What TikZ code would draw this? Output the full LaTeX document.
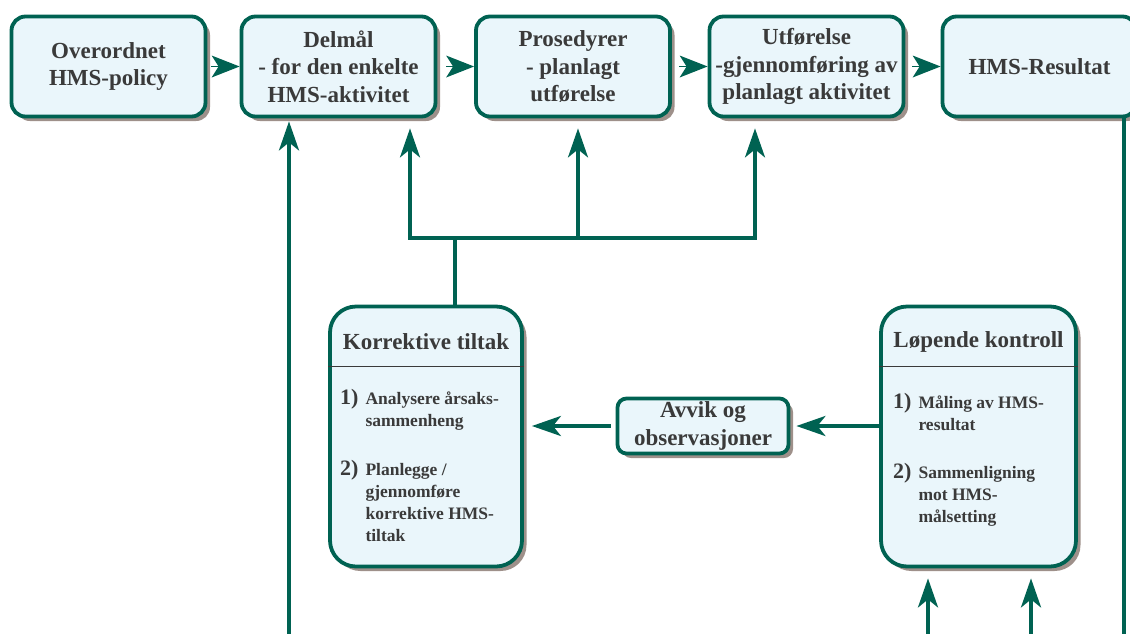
\documentclass[tikz,border=0pt]{standalone}
\usepackage{fontspec}
\setmainfont{Liberation Serif}
\usetikzlibrary{arrows.meta,shadows}

\definecolor{edge}{RGB}{0,98,82}
\definecolor{boxfill}{RGB}{234,246,251}
\definecolor{shade}{RGB}{158,144,138}
\definecolor{ink}{RGB}{58,58,58}

\newcommand\headfont{\fontsize{23}{27.5}\selectfont\bfseries}
\newcommand\itemfont{\fontsize{17.5}{22}\selectfont\bfseries}
\newcommand\numfont{\fontsize{22}{22}\selectfont\bfseries}

\begin{document}
\begin{tikzpicture}[x=1pt,y=-1pt,
  panel/.style={draw=edge, fill=boxfill, line width=3.8pt, text=ink,
    drop shadow={shadow xshift=4.5pt, shadow yshift=-4.5pt, fill=shade, opacity=1},
    inner sep=0pt, align=center, font=\headfont},
  topbox/.style={panel, rounded corners=14pt, minimum width=194pt, minimum height=100pt},
  bigbox/.style={panel, rounded corners=26pt, minimum height=260pt},
  notebox/.style={panel, rounded corners=9pt, minimum width=171pt, minimum height=55pt},
  label/.style={text=ink, inner sep=0pt, font=\headfont},
  entry/.style={text=ink, inner sep=0pt, anchor=north west, font=\itemfont},
  rule/.style={draw=ink, line width=1.2pt},
  conn/.style={draw=edge, line width=3.8pt},
  flow/.style={conn, -{Stealth[length=29pt, width=20pt, inset=8pt]}},
  head/.style={draw=none, -{Stealth[length=28pt, width=22pt, inset=7pt, fill=edge]}, line width=0pt}
]
\useasboundingbox (0,0) rectangle (1130,633);
\begin{scope}
\clip (0,0) rectangle (1130,633);

% main chain
\node[topbox] (pol) at (108.5,66.5) {Overordnet\\HMS-policy};
\node[topbox] (del) at (338.5,66.5) {Delmål\\- for den enkelte\\HMS-aktivitet};
\node[topbox] (pro) at (573,66.5) {Prosedyrer\\- planlagt\\utførelse};
\node[topbox] (utf) at (806.5,66.5) {Utførelse\\-gjennomføring av\\planlagt aktivitet};
\node[topbox] (res) at (1039.5,66.5) {HMS-Resultat};

\foreach \a/\b in {pol/del, del/pro, pro/utf, utf/res}
  \draw[head, draw=edge] ([xshift=-28pt]\b.west) -- (\b.west);

% corrective measures
\node[bigbox, minimum width=192pt] (kor) at (426,436.5) {};
\node[label] (korT) at ([yshift=-37pt]kor.north) {Korrektive tiltak};
\draw[rule] ([yshift=-62pt]kor.north west) -- ([yshift=-62pt]kor.north east);
\node[entry] (kor1) at (340,389) {\begin{tabular}{@{}l@{\hspace{7pt}}l@{}}\numfont 1) & Analysere årsaks-\\ & sammenheng\end{tabular}};
\node[entry] (kor2) at (340,460) {\begin{tabular}{@{}l@{\hspace{7pt}}l@{}}\numfont 2) & Planlegge /\\ & gjennomføre\\ & korrektive HMS-\\ & tiltak\end{tabular}};

% continuous control
\node[bigbox, minimum width=195pt] (lop) at (978.5,436.5) {};
\node[label] (lopT) at ([yshift=-37pt]lop.north) {Løpende kontroll};
\draw[rule] ([yshift=-62pt]lop.north west) -- ([yshift=-62pt]lop.north east);
\node[entry] (lop1) at (893,393) {\begin{tabular}{@{}l@{\hspace{7pt}}l@{}}\numfont 1) & Måling av HMS-\\ & resultat\end{tabular}};
\node[entry] (lop2) at (893,463) {\begin{tabular}{@{}l@{\hspace{7pt}}l@{}}\numfont 2) & Sammenligning\\ & mot HMS-\\ & målsetting\end{tabular}};

% deviations
\node[notebox] (avv) at (703,426) {Avvik og\\observasjoner};

\draw[flow] (avv.east -| lop.west) -- ([xshift=6pt]avv.east);
\draw[flow] ([xshift=-5pt]avv.west) -- ([xshift=8pt]avv.west -| kor.east);

% feedback bracket
\coordinate (brL) at (410,238);
\coordinate (brM) at (578,238);
\coordinate (brR) at (755,238);
\coordinate (stem) at (455,238);
\draw[conn, line width=3.2pt, line cap=rect] (brL) -- (brR);
\draw[flow, line width=3.2pt] (brL) -- ([yshift=-10pt]del.south -| brL);
\draw[flow, line width=3.2pt] (brM) -- ([yshift=-10pt]pro.south -| brM);
\draw[flow, line width=3.2pt] (brR) -- ([yshift=-10pt]utf.south -| brR);
\draw[conn, line width=3.2pt] (stem) -- (kor.north -| stem);

% lines entering from below and leaving to the right
\coordinate (inL) at (289,640);
\coordinate (inA) at (928,640);
\coordinate (inB) at (1031,640);
\coordinate (outR) at (1124,640);
\draw[flow] (inL) -- ([yshift=-3pt]del.south -| inL);
\draw[flow] (inA) -- ([yshift=-10pt]lop.south -| inA);
\draw[flow] (inB) -- ([yshift=-10pt]lop.south -| inB);
\draw[conn] (res.south -| outR) -- (outR);
\end{scope}
\end{tikzpicture}
\end{document}
